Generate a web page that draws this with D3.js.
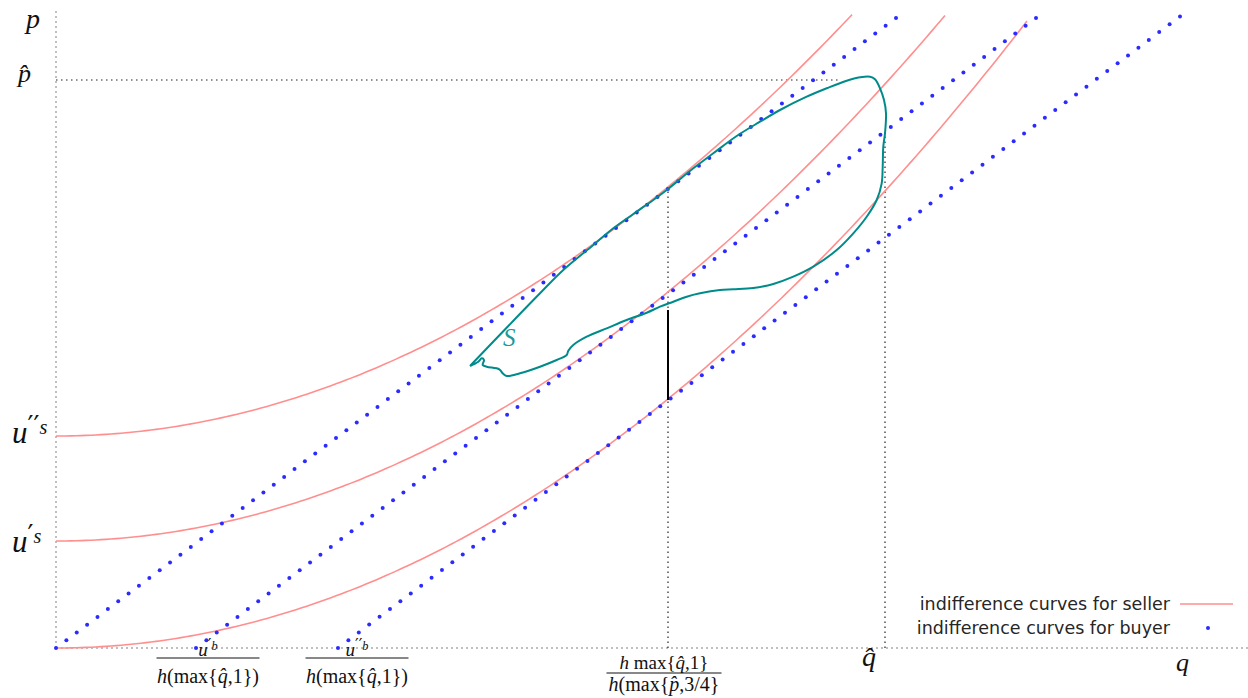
<!DOCTYPE html>
<html>
<head>
<meta charset="utf-8">
<script src="https://cdn.jsdelivr.net/npm/d3@7"></script>
<style>
body { margin: 0; background: #fff; }
.math { font-family: "Liberation Serif", "DejaVu Serif", serif; fill: #111; }
</style>
</head>
<body>
<script>
// seller indifference curves: p = level + curvature * q^2
var sellerLevels = [0, 1.07, 2.12];
var sellerCurvature = 0.0665;
var sellerEnds = [9.71, 8.89, 7.96];

// buyer indifference curves: p = slope * (q - intercept)
var buyerIntercepts = [0, 1.40, 2.82];
var buyerSlope = 0.75;
var buyerEnds = [8.40, 9.80, 11.24];

// the set S
var sQ = [4.14, 4.84, 5.073, 5.373, 5.573, 5.773, 5.973, 6.107, 6.373, 6.573, 6.807, 7.04, 7.24, 7.507,
  7.707, 7.907, 8.04, 8.14, 8.19, 8.24, 8.28, 8.30, 8.29, 8.273, 8.267, 8.257, 8.207, 8.107, 7.973,
  7.807, 7.573, 7.373, 7.173, 6.973, 6.773, 6.64, 6.44, 6.307, 6.173, 6.04, 5.907, 5.707, 5.507,
  5.307, 5.173, 5.123, 5.107, 5.007, 4.84, 4.64, 4.507, 4.467, 4.433, 4.307, 4.267, 4.28, 4.257,
  4.223, 4.14];
var sP = [2.82, 3.547, 3.78, 4.03, 4.197, 4.34, 4.48, 4.58, 4.797, 4.947, 5.12, 5.263, 5.38, 5.513,
  5.597, 5.673, 5.707, 5.713, 5.687, 5.597, 5.48, 5.347, 5.147, 5.013, 4.813, 4.647, 4.48, 4.313,
  4.147, 3.98, 3.813, 3.713, 3.64, 3.60, 3.587, 3.58, 3.547, 3.513, 3.463, 3.413, 3.353, 3.28,
  3.197, 3.113, 3.03, 2.973, 2.93, 2.88, 2.813, 2.747, 2.72, 2.747, 2.787, 2.813, 2.83, 2.88,
  2.897, 2.863, 2.82];

// reference values
var qHat = 8.29, pHat = 5.68;
var qMark = 6.12;              // h max{q,1} / h(max{p,3/4})
var pHatLineEnd = 7.84;
var qHatLineTop = 5.14;
var gapTop = 3.38, gapBottom = 2.48;

var width = 1248, height = 698;
var x = d3.scaleLinear().domain([0, 11.92]).range([56, 1248]);
var y = d3.scaleLinear().domain([0, 6.38]).range([648, 10]);

var svg = d3.select("body").append("svg")
    .attr("width", width)
    .attr("height", height);

// axes (dotted gray)
svg.append("line")
    .attr("x1", x(0)).attr("x2", x(0))
    .attr("y1", y(0)).attr("y2", 10)
    .attr("stroke", "#aaa").attr("stroke-width", 1.5).attr("stroke-dasharray", "2,3");
svg.append("line")
    .attr("x1", x(0)).attr("x2", width)
    .attr("y1", y(0)).attr("y2", y(0))
    .attr("stroke", "#aaa").attr("stroke-width", 1.5).attr("stroke-dasharray", "2,3");

// black dotted guides
var guides = [
  [0, pHat, pHatLineEnd, pHat],
  [qMark, 0, qMark, buyerSlope * (qMark - buyerIntercepts[0])],
  [qHat, 0, qHat, qHatLineTop]
];
svg.selectAll(".guide")
    .data(guides)
    .enter().append("line")
    .attr("class", "guide")
    .attr("x1", function(d) { return x(d[0]); })
    .attr("y1", function(d) { return y(d[1]); })
    .attr("x2", function(d) { return x(d[2]); })
    .attr("y2", function(d) { return y(d[3]); })
    .attr("stroke", "#222").attr("stroke-width", 1.2).attr("stroke-dasharray", "1.5,3.5");

// seller curves
var line = d3.line()
    .x(function(d) { return x(d[0]); })
    .y(function(d) { return y(d[1]); });

sellerLevels.forEach(function(u, i) {
  var pts = d3.range(0, sellerEnds[i], 0.05).concat([sellerEnds[i]])
      .map(function(q) { return [q, u + sellerCurvature * q * q]; });
  svg.append("path")
      .attr("d", line(pts))
      .attr("fill", "none")
      .attr("stroke", "#ff8f8f")
      .attr("stroke-width", 1.6);
});

// buyer curves (dots)
var dotsPerLine = 82;
buyerIntercepts.forEach(function(c, i) {
  var step = (buyerEnds[i] - c) / (dotsPerLine - 1);
  var pts = d3.range(dotsPerLine).map(function(k) {
    var q = c + k * step;
    return [q, buyerSlope * (q - c)];
  });
  svg.append("g").selectAll("circle")
      .data(pts)
      .enter().append("circle")
      .attr("cx", function(d) { return x(d[0]); })
      .attr("cy", function(d) { return y(d[1]); })
      .attr("r", 2)
      .attr("fill", "#2b2bff");
});

// the set S
var sPts = sQ.map(function(q, i) { return [q, sP[i]]; });
svg.append("path")
    .attr("d", d3.line()
        .x(function(d) { return x(d[0]); })
        .y(function(d) { return y(d[1]); })
        .curve(d3.curveCatmullRom.alpha(0.5))(sPts))
    .attr("fill", "none")
    .attr("stroke", "#008b8b")
    .attr("stroke-width", 2);

svg.append("text")
    .attr("class", "math")
    .attr("font-style", "italic")
    .attr("x", 503).attr("y", 346)
    .attr("font-size", 25)
    .style("fill", "#1a9a9a")
    .text("S");

// black gap segment
svg.append("line")
    .attr("x1", x(qMark)).attr("x2", x(qMark))
    .attr("y1", y(gapTop)).attr("y2", y(gapBottom))
    .attr("stroke", "#000").attr("stroke-width", 2);

// axis labels
function mathText(xp, yp, size, parts, anchor) {
  var t = svg.append("text")
      .attr("class", "math")
      .attr("x", xp).attr("y", yp)
      .attr("font-size", size)
      .attr("text-anchor", anchor || "start");
  parts.forEach(function(p) {
    var s = t.append("tspan").text(p.t);
    if (p.it) s.attr("font-style", "italic");
    if (p.prime) s.attr("font-family", "DejaVu Serif").attr("font-size", size * 0.85)
        .attr("dy", -size * 0.3);
    if (p.sup) s.attr("font-size", size * 0.65);
  });
  return t;
}

mathText(26, 28, 28, [{t: "p", it: true}]);
mathText(18, 82, 26, [{t: "p\u0302", it: true}]);
mathText(12, 443, 31, [{t: "u", it: true}, {t: "\u2032\u2032", prime: true}, {t: "s", it: true, sup: true}]);
mathText(12, 552, 31, [{t: "u", it: true}, {t: "\u2032", prime: true}, {t: "s", it: true, sup: true}]);
mathText(862, 666, 28, [{t: "q\u0302", it: true}]);
mathText(1176, 671, 26, [{t: "q", it: true}]);

// fraction labels below the q axis
function fraction(cx, barY, barW, numY, denY, num, den) {
  mathText(cx, numY, 19, num, "middle");
  svg.append("line")
      .attr("x1", cx - barW / 2).attr("x2", cx + barW / 2)
      .attr("y1", barY).attr("y2", barY)
      .attr("stroke", "#111").attr("stroke-width", 1);
  mathText(cx, denY, 20, den, "middle");
}
var denQ = [{t: "h", it: true}, {t: "(max{"}, {t: "q\u0302", it: true}, {t: ",1})"}];
fraction(x(buyerIntercepts[1]) + 12, 658, 103, 656, 683,
  [{t: "u", it: true}, {t: "\u2032", prime: true}, {t: "b", it: true, sup: true}], denQ);
fraction(x(buyerIntercepts[2]) + 19, 658, 103, 656, 683,
  [{t: "u", it: true}, {t: "\u2032\u2032", prime: true}, {t: "b", it: true, sup: true}], denQ);
fraction(x(qMark) - 4, 673, 115, 669, 691,
  [{t: "h", it: true}, {t: " max{"}, {t: "q\u0302", it: true}, {t: ",1}"}],
  [{t: "h", it: true}, {t: "(max{"}, {t: "p\u0302", it: true}, {t: ",3/4}"}]);

// legend
var legend = svg.append("g").attr("font-family", "DejaVu Sans, sans-serif").attr("font-size", 17.5);
legend.append("text")
    .attr("x", 1170).attr("y", 610)
    .attr("text-anchor", "end").attr("fill", "#262626")
    .text("indifference curves for seller");
legend.append("text")
    .attr("x", 1170).attr("y", 634)
    .attr("text-anchor", "end").attr("fill", "#262626")
    .text("indifference curves for buyer");
legend.append("line")
    .attr("x1", 1180).attr("x2", 1233).attr("y1", 604).attr("y2", 604)
    .attr("stroke", "#ff8f8f").attr("stroke-width", 1.6);
legend.append("circle")
    .attr("cx", 1208).attr("cy", 628).attr("r", 2)
    .attr("fill", "#2b2bff");
</script>
</body>
</html>
